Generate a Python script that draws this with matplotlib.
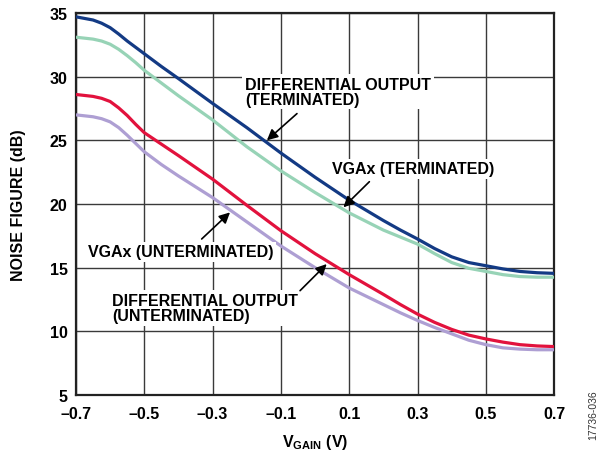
import matplotlib

matplotlib.use("Agg")

import matplotlib.pyplot as plt

# V_GAIN sample points (V)
VGAIN = [-0.70, -0.65, -0.625, -0.60, -0.575, -0.55, -0.525, -0.50, -0.45,
         -0.40, -0.30, -0.20, -0.10, 0.00, 0.10, 0.20, 0.25, 0.30, 0.35,
         0.40, 0.45, 0.50, 0.55, 0.60, 0.65, 0.70]

# noise figure (dB)
NF_DIFF_TERM = [34.7, 34.45, 34.2, 33.85, 33.35, 32.8, 32.3, 31.8, 30.8,
                29.85, 27.9, 26.0, 24.0, 22.1, 20.3, 18.7, 17.95, 17.25, 16.5,
                15.85, 15.4, 15.15, 14.9, 14.7, 14.6, 14.55]
NF_VGA_TERM = [33.1, 32.95, 32.8, 32.55, 32.15, 31.65, 31.1, 30.5, 29.5,
               28.5, 26.6, 24.5, 22.6, 20.9, 19.3, 17.95, 17.4, 16.85, 16.1,
               15.4, 14.95, 14.7, 14.45, 14.3, 14.25, 14.25]
NF_DIFF_UNTERM = [28.6, 28.45, 28.3, 28.05, 27.55, 26.95, 26.25, 25.6, 24.7,
                  23.8, 21.95, 19.9, 17.9, 16.1, 14.45, 12.9, 12.1, 11.35, 10.7,
                  10.15, 9.7, 9.4, 9.15, 8.95, 8.85, 8.8]
NF_VGA_UNTERM = [27.0, 26.85, 26.7, 26.45, 26.0, 25.4, 24.75, 24.1, 23.1,
                 22.2, 20.5, 18.6, 16.7, 15.0, 13.4, 12.1, 11.45, 10.85, 10.3,
                 9.8, 9.3, 8.95, 8.7, 8.6, 8.55, 8.55]

X_TICKS = [-0.7, -0.5, -0.3, -0.1, 0.1, 0.3, 0.5, 0.7]
X_TICK_LABELS = ["\u20130.7", "\u20130.5", "\u20130.3", "\u20130.1",
                 "0.1", "0.3", "0.5", "0.7"]
Y_TICKS = [5, 10, 15, 20, 25, 30, 35]

plt.rcParams.update({
    "font.family": ["Liberation Sans", "DejaVu Sans"],
    "font.weight": "bold",
    "mathtext.fontset": "custom",
    "mathtext.rm": "Liberation Sans:bold",
    "mathtext.bf": "Liberation Sans:bold",
})

FS = 11.5

fig = plt.figure(figsize=(6.03, 4.52), dpi=100)
ax = fig.add_axes([0.126, 0.124, 0.793, 0.845])

line_kw = dict(lw=2.3, zorder=3, solid_capstyle="butt", solid_joinstyle="round")
ax.plot(VGAIN, NF_DIFF_TERM, color="#133a84", **line_kw)
ax.plot(VGAIN, NF_VGA_TERM, color="#97d3b6", **line_kw)
ax.plot(VGAIN, NF_DIFF_UNTERM, color="#e2123d", **line_kw)
ax.plot(VGAIN, NF_VGA_UNTERM, color="#ae9fd3", **line_kw)

ax.set_xlim(-0.7, 0.7)
ax.set_ylim(5, 35)
ax.set_xticks(X_TICKS)
ax.set_xticklabels(X_TICK_LABELS)
ax.set_yticks(Y_TICKS)
ax.tick_params(axis="x", length=0, labelsize=FS, pad=8)
ax.tick_params(axis="y", length=0, labelsize=FS, pad=6)
for lab in ax.get_xticklabels() + ax.get_yticklabels():
    lab.set_fontweight("bold")
ax.grid(True, color="#3a3a3a", lw=1.0, zorder=0)
for sp in ax.spines.values():
    sp.set_linewidth(1.6)
    sp.set_color("#222222")

ax.set_xlabel(r"V$_{\mathrm{GAIN}}$ (V)", fontsize=FS, fontweight="bold", labelpad=8)
ax.set_ylabel("NOISE FIGURE (dB)", fontsize=FS, fontweight="bold", labelpad=17)

box = dict(facecolor="white", edgecolor="none", pad=2)
txt = dict(fontsize=FS, fontweight="bold", zorder=4, linespacing=1.0, bbox=box)
ax.text(-0.205, 30.0, "DIFFERENTIAL OUTPUT\n(TERMINATED)", ha="left", va="top", **txt)
ax.text(0.049, 22.75, "VGAx (TERMINATED)", ha="left", va="center", **txt)
ax.text(-0.664, 16.25, "VGAx (UNTERMINATED)", ha="left", va="center", **txt)
ax.text(-0.595, 13.0, "DIFFERENTIAL OUTPUT\n(UNTERMINATED)", ha="left", va="top", **txt)

arrow = dict(arrowstyle="-|>", color="black", lw=1.2, mutation_scale=16, shrinkA=0, shrinkB=0)
ax.annotate("", xy=(-0.141, 25.0), xytext=(-0.053, 27.1), arrowprops=arrow, zorder=5)
ax.annotate("", xy=(0.083, 19.74), xytext=(0.159, 21.75), arrowprops=arrow, zorder=5)
ax.annotate("", xy=(-0.249, 19.34), xytext=(-0.332, 17.25), arrowprops=arrow, zorder=5)
ax.annotate("", xy=(0.034, 15.28), xytext=(-0.044, 13.19), arrowprops=arrow, zorder=5)

fig.text(593 / 603, 1 - 415 / 452, "17736-036", rotation=90, fontsize=7.5,
         fontweight="normal", ha="center", va="center", color="#333333")

fig.savefig("out.png", dpi=100)
